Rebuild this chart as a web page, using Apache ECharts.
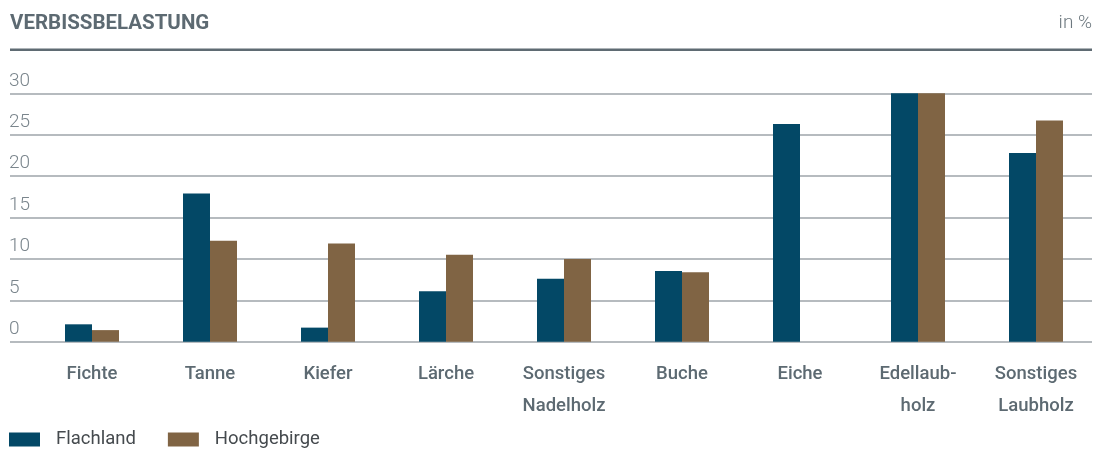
<!DOCTYPE html>
<html>
<head>
<meta charset="utf-8">
<script src="https://cdn.jsdelivr.net/npm/echarts@6/dist/echarts.min.js"></script>
<style>
  html, body { margin: 0; padding: 0; background: #fff; }
  #chart { width: 1095px; height: 455px; }
</style>
</head>
<body>
<div id="chart"></div>
<script>
// Verbissbelastung in %
const categories = ['Fichte', 'Tanne', 'Kiefer', 'Lärche', 'Sonstiges\nNadelholz',
  'Buche', 'Eiche', 'Edellaub-\nholz', 'Sonstiges\nLaubholz'];
const flachland = [2.1, 17.9, 1.7, 6.1, 7.6, 8.55, 26.3, 30.0, 22.8];
const hochgebirge = [1.4, 12.2, 11.85, 10.5, 10.0, 8.4, null, 30.5, 26.7];
const yTicks = [0, 5, 10, 15, 20, 25, 30];

const textColor = '#5d6a72';
const font = 'Roboto';

let myChart = echarts.init(document.getElementById('chart'));

const option = {
  animation: false,
  title: [
    {
      text: 'VERBISSBELASTUNG',
      left: 10, top: 13, padding: 0,
      textStyle: { color: textColor, fontFamily: font, fontWeight: 'bold', fontSize: 20.5 }
    },
    {
      text: 'in %',
      right: 3, top: 14, padding: 0,
      textStyle: { color: '#6d787f', fontFamily: font, fontWeight: 300, fontSize: 19 }
    }
  ],
  graphic: [
    { type: 'rect', shape: { x: 10, y: 48.5, width: 1082, height: 2.5 }, style: { fill: '#5f6b73' } }
  ],
  legend: {
    left: 9, top: 430, padding: 0,
    itemWidth: 31, itemHeight: 14,
    itemGap: 32,
    icon: 'rect',
    textStyle: { color: '#454a4e', fontFamily: font, fontSize: 18.5, padding: [0, 0, 0, 11] },
    data: ['Flachland', 'Hochgebirge']
  },
  grid: [
    { left: 33, right: 0, top: 93.3, bottom: 113.3 },
    { left: 10, right: 3, top: 93.3, bottom: 113.3 }
  ],
  xAxis: [
    {
      type: 'category', gridIndex: 0, data: categories,
      axisLine: { show: false }, axisTick: { show: false },
      axisLabel: { color: textColor, fontFamily: font, fontWeight: 500, fontSize: 18.5, lineHeight: 32, margin: 17 }
    },
    { type: 'category', gridIndex: 1, data: categories, show: false }
  ],
  yAxis: [
    {
      type: 'value', gridIndex: 0, min: 0, max: 30, interval: 5,
      axisLabel: { show: false }, splitLine: { show: false }, axisLine: { show: false }
    },
    {
      type: 'value', gridIndex: 1, min: yTicks[0], max: yTicks[yTicks.length - 1], interval: 5,
      axisLine: { show: false }, axisTick: { show: false },
      axisLabel: {
        inside: true, margin: -1, verticalAlign: 'bottom', padding: [0, 0, 3, 0],
        color: '#7a858c', fontFamily: font, fontWeight: 300, fontSize: 19
      },
      splitLine: { lineStyle: { color: '#9ea5aa', width: 1.5 } }
    }
  ],
  series: [
    {
      name: 'Flachland', type: 'bar', xAxisIndex: 0, yAxisIndex: 0,
      data: flachland, barWidth: 27, barGap: '0%',
      itemStyle: { color: '#034866' }, z: 3
    },
    {
      name: 'Hochgebirge', type: 'bar', xAxisIndex: 0, yAxisIndex: 0,
      data: hochgebirge, barWidth: 27, barGap: '0%',
      itemStyle: { color: '#806444' }, z: 3
    }
  ]
};
myChart.setOption(option);
</script>
</body>
</html>
